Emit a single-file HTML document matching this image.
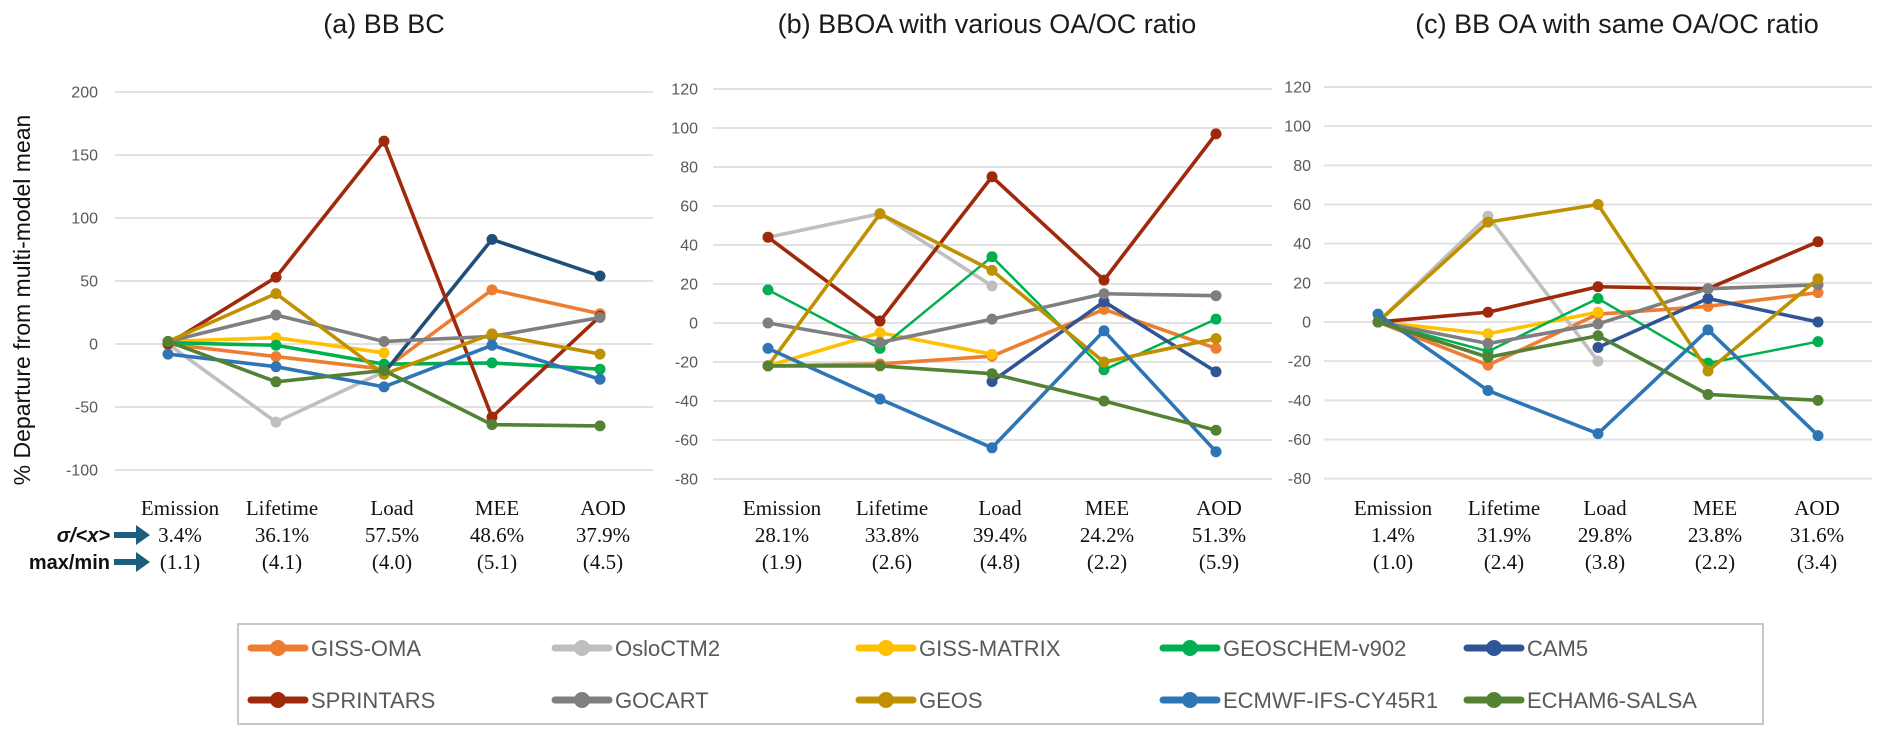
<!DOCTYPE html>
<html><head><meta charset="utf-8">
<style>
html,body{margin:0;padding:0;background:#fff;}
svg{display:block;}
</style></head>
<body>
<svg id="chart" width="1892" height="745" viewBox="0 0 1892 745" xmlns="http://www.w3.org/2000/svg"></svg>
<script>
const categories = ["Emission","Lifetime","Load","MEE","AOD"];
const models = ["GISS-OMA","OsloCTM2","GISS-MATRIX","GEOSCHEM-v902","CAM5","SPRINTARS","GOCART","GEOS","ECMWF-IFS-CY45R1","ECHAM6-SALSA"];
const modelColors = ["#ED7D31","#BFBFBF","#FFC000","#00B050","#2F5597","#A0290C","#7F7F7F","#BF9000","#2E75B6","#548235"];

// Panel (a) BB BC
const aValues = [
  [0,-10,-20,43,24],
  [0,-62,-22,null,null],
  [2,5,-7,null,null],
  [1,-1,-16,-15,-20],
  [null,null,-23,83,54],
  [0,53,161,-58,22],
  [2,23,2,6,21],
  [2,40,-24,8,-8],
  [-8,-18,-34,-1,-28],
  [2,-30,-21,-64,-65]
];
const aTicks = [200,150,100,50,0,-50,-100];
const aSigma = ["3.4%","36.1%","57.5%","48.6%","37.9%"];
const aRatio = ["(1.1)","(4.1)","(4.0)","(5.1)","(4.5)"];

// Panel (b) BBOA
const bValues = [
  [-22,-21,-17,7,-13],
  [44,56,19,null,null],
  [-22,-5,-16,null,null],
  [17,-13,34,-24,2],
  [null,null,-30,11,-25],
  [44,1,75,22,97],
  [0,-10,2,15,14],
  [-22,56,27,-20,-8],
  [-13,-39,-64,-4,-66],
  [-22,-22,-26,-40,-55]
];
const bTicks = [120,100,80,60,40,20,0,-20,-40,-60,-80];
const bSigma = ["28.1%","33.8%","39.4%","24.2%","51.3%"];
const bRatio = ["(1.9)","(2.6)","(4.8)","(2.2)","(5.9)"];

// Panel (c) BB OA
const cValues = [
  [0,-22,4,8,15],
  [0,54,-20,null,null],
  [0,-6,5,null,null],
  [0,-15,12,-21,-10],
  [null,null,-13,12,0],
  [0,5,18,17,41],
  [0,-11,-1,17,19],
  [0,51,60,-25,22],
  [4,-35,-57,-4,-58],
  [0,-18,-7,-37,-40]
];
const cTicks = [120,100,80,60,40,20,0,-20,-40,-60,-80];
const cSigma = ["1.4%","31.9%","29.8%","23.8%","31.6%"];
const cRatio = ["(1.0)","(2.4)","(3.8)","(2.2)","(3.4)"];

const NS = "http://www.w3.org/2000/svg";
const svg = document.getElementById("chart");
function mk(tag, attrs, parent){
  const e = document.createElementNS(NS, tag);
  for (const k in attrs) e.setAttribute(k, attrs[k]);
  (parent||svg).appendChild(e);
  return e;
}

const panels = [
  {key:"a", title:"(a) BB BC", titleX:384, values:aValues, ticks:aTicks, sigma:aSigma, ratio:aRatio,
   gx0:115, gx1:653, x0:168, dx:108, yTop:92, yZero:344, vTop:200, labelX:98,
   catX:[180,282,392,497,603], cam:"#1F4E79"},
  {key:"b", title:"(b) BBOA with various OA/OC ratio", titleX:987, values:bValues, ticks:bTicks, sigma:bSigma, ratio:bRatio,
   gx0:713, gx1:1272, x0:768, dx:112, yTop:89, yZero:323, vTop:120, labelX:698,
   catX:[782,892,1000,1107,1219], cam:"#2F5597"},
  {key:"c", title:"(c) BB OA with same OA/OC ratio", titleX:1617, values:cValues, ticks:cTicks, sigma:cSigma, ratio:cRatio,
   gx0:1324, gx1:1872, x0:1378, dx:110, yTop:87, yZero:322, vTop:120, labelX:1311,
   catX:[1393,1504,1605,1715,1817], cam:"#2F5597"}
];

panels.forEach(p => {
  const g = mk("g", {});
  
  
  const yScale = v => p.yZero - (v / p.vTop) * (p.yZero - p.yTop);
  const xScale = i => p.x0 + i * p.dx;

  const t = mk("text", {x:p.titleX, y:33, "text-anchor":"middle", "font-family":"Liberation Sans, sans-serif", "font-size":27, fill:"#1a1a1a"}, g);
  t.textContent = p.title;
  
  

  p.ticks.forEach(v => {
    const y = yScale(v);
    const l = mk("line", {x1:p.gx0, x2:p.gx1, y1:y, y2:y, stroke:"#e2e2e2", "stroke-width":2}, g);
    
    
    const tl = mk("text", {x:p.labelX, y:y+5.5, "text-anchor":"end", "font-family":"Liberation Sans, sans-serif", "font-size":16, fill:"#595959"}, g);
    tl.textContent = String(v);
    
    
  });

  categories.forEach((c, i) => {
    const rows = [[c,508],[p.sigma[i],535],[p.ratio[i],562]];
    rows.forEach(r => {
      const tx = mk("text", {x:p.catX[i], y:r[1]+7, "text-anchor":"middle", "font-family":"Liberation Serif, serif", "font-size":21, fill:"#111"}, g);
      tx.textContent = r[0];
      
      
    });
  });

  p.values.forEach((series, m) => {
    const color = m === 4 ? p.cam : modelColors[m];
    const sw = (m === 3 && p.key !== "a") ? 2.5 : 3.6;
    let d = "";
    let started = false;
    series.forEach((v, i) => {
      if (v === null) { started = false; return; }
      d += (started ? "L" : "M") + xScale(i) + "," + yScale(v);
      started = true;
    });
    const path = mk("path", {d:d, fill:"none", stroke:color, "stroke-width":sw, "stroke-linejoin":"round"}, g);
    
    
    series.forEach((v, i) => {
      if (v === null) return;
      const c = mk("circle", {cx:xScale(i), cy:yScale(v), r:5.5, fill:color}, g);
      
      
    });
  });
});

// y-axis title
const yt = mk("text", {x:0, y:0, transform:"translate(30,300) rotate(-90)", "text-anchor":"middle", "font-family":"Liberation Sans, sans-serif", "font-size":23, fill:"#111"});
yt.textContent = "% Departure from multi-model mean";



// row labels with arrows
[["σ/<x>",535,"italic"],["max/min",562,"normal"]].forEach(r => {
  const tx = mk("text", {x:110, y:r[1]+7, "text-anchor":"end", "font-family":"Liberation Sans, sans-serif", "font-size":20, "font-weight":"bold", "font-style":r[2], fill:"#111"});
  tx.textContent = r[0];
  
  
  const ar = mk("path", {d:"M114,"+(r[1]-3)+"L136,"+(r[1]-3)+"L136,"+(r[1]-10)+"L150,"+r[1]+"L136,"+(r[1]+10)+"L136,"+(r[1]+3)+"L114,"+(r[1]+3)+"Z", fill:"#1B5F7F"});
  
  
});

// legend
const lg = mk("g", {});


const box = mk("rect", {x:238, y:624, width:1525, height:100, fill:"#fff", stroke:"#c8c8c8", "stroke-width":2}, lg);


models.forEach((name, m) => {
  const col = m % 5, row = Math.floor(m / 5);
  const x = 248 + col * 304, y = row === 0 ? 648 : 700;
  const ln = mk("line", {x1:x+3, x2:x+57, y1:y, y2:y, stroke:modelColors[m], "stroke-width":7, "stroke-linecap":"round"}, lg);
  
  
  const dot = mk("circle", {cx:x+30, cy:y, r:8, fill:modelColors[m]}, lg);
  
  
  const tx = mk("text", {x:x+63, y:y+8, "font-family":"Liberation Sans, sans-serif", "font-size":22, fill:"#595959"}, lg);
  tx.textContent = name;
  
  
});
</script>
</body></html>
